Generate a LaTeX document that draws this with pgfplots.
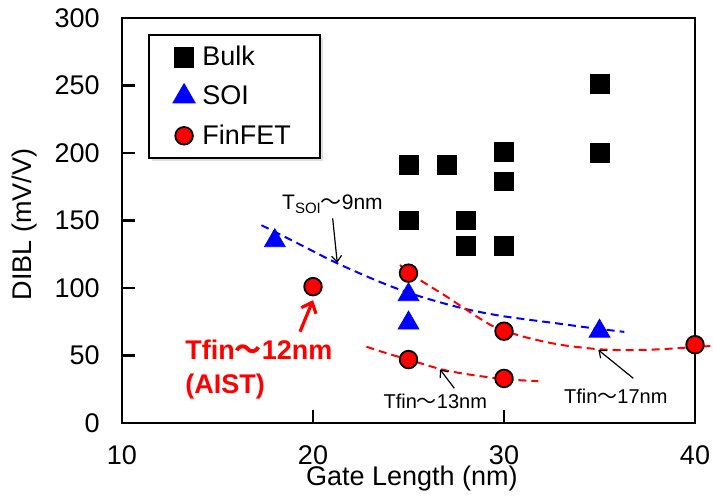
\documentclass[border=0pt]{standalone}
\usepackage{fontspec}
\setmainfont{Liberation Sans}
\newfontfamily\cjk{Noto Sans CJK JP}
\usepackage{pgfplots}
\pgfplotsset{compat=1.18}
\usetikzlibrary{arrows.meta,shadows}
\newcommand{\wave}{{\cjk ～}}

\begin{document}
\begin{tikzpicture}
\begin{axis}[
    scale only axis,
    width=286.5pt, height=202.5pt,
    xmin=10, xmax=40, ymin=0, ymax=300,
    xtick={10,20,30,40}, ytick={0,50,...,300},
    tick pos=left, tick align=inside,
    major tick length=6.5pt,
    axis line style={line width=1.4pt},
    every tick/.style={black, line width=1.2pt},
    tick label style={font=\fontsize{13.5}{16}\selectfont},
    /pgf/number format/assume math mode=true,
    xticklabel style={anchor=north, inner sep=0pt, yshift=-11pt},
    yticklabel style={anchor=east, inner sep=0pt, xshift=-11pt},
    xlabel={Gate Length (nm)},
    ylabel={DIBL (mV/V)},
    label style={font=\fontsize{13.5}{16}\selectfont},
    xlabel style={at={(axis description cs:0.506,-0.136)}, anchor=center},
    ylabel style={at={(axis description cs:-0.1693,0.49)}, anchor=center},
    clip=false,
    legend style={at={(0.045,0.96)}, anchor=north west,
        font=\fontsize{13.5}{16}\selectfont,
        draw=black, line width=0.9pt, fill=white,
        inner xsep=12.5pt, inner ysep=3.5pt, row sep=4.5pt,
        /tikz/every odd column/.append style={column sep=2pt},
        drop shadow={shadow xshift=1.5pt, shadow yshift=-1.5pt, fill=gray!50}},
    legend cell align=left,
]
% trend lines
\addplot[forget plot, blue, dashed, line width=1pt, dash pattern=on 4pt off 2.5pt, smooth]
  coordinates {(17.3,146.5) (19,134.5) (21.24,118.5) (23.5,104.5) (25,96.5) (26.5,90) (28.13,84) (30,79) (32.93,73.5) (34.5,70.5) (36.3,67.5)};
\addplot[forget plot, red, dashed, line width=1pt, dash pattern=on 4pt off 2.5pt, smooth]
  coordinates {(24.55,117) (25.6,106) (27,93.6) (28.13,83) (29.44,71.6) (31,64) (32.93,58) (35,54.6) (36.5,54) (38,54.5) (39.5,55.8) (40.8,57)};
\addplot[forget plot, red, dashed, line width=1pt, dash pattern=on 4pt off 2.5pt, smooth]
  coordinates {(22.8,56.5) (24,51) (25,47) (26.65,40) (28,36.3) (30,32.5) (31.8,31)};

\addplot[only marks, mark=square*, mark size=4.7pt, mark options={fill=black, draw=black, rounded corners=1pt}]
  coordinates {(25,191) (27,191) (30,201) (30,179) (35,251) (35,200) (25,150) (28,150) (28,131) (30,131)};
\addlegendentry{Bulk}
\addplot[only marks, mark=triangle*, mark size=6pt, mark options={fill=blue, draw=blue}]
  coordinates {(18,135) (25,95) (25,74) (35,68)};
\addlegendentry{SOI}
\addplot[only marks, mark=*, mark size=4.4pt, mark options={fill=red, draw=black, line width=0.9pt}]
  coordinates {(20,101) (25,111) (30,68) (25,47) (30,33) (40,58)};
\addlegendentry{FinFET}

% annotations
\node[anchor=base, font=\fontsize{10.5}{12}\selectfont, inner sep=0pt] at (axis cs:21.02,157.8)
  {T\raisebox{-0.35ex}{\fontsize{7.5}{9}\selectfont SOI}\wave 9nm};
\draw[-{Straight Barb[length=3pt,width=5pt]}, line width=0.6pt] (axis cs:21.03,151.6) -- (axis cs:21.27,118.7);

\node[anchor=base, font=\fontsize{10}{12}\selectfont, inner sep=0pt] at (axis cs:26.4,10.9) {Tfin\wave 13nm};
\draw[-{Straight Barb[length=3pt,width=5pt]}, line width=0.6pt] (axis cs:27.4,25.7) -- (axis cs:26.65,39.7);

\node[anchor=base, font=\fontsize{10}{12}\selectfont, inner sep=0pt] at (axis cs:35.85,14.6) {Tfin\wave 17nm};
\draw[-{Straight Barb[length=3pt,width=5pt]}, line width=0.6pt] (axis cs:36.77,33.1) -- (axis cs:34.94,54.1);

\node[anchor=base west, text=red, font=\fontsize{13.5}{16}\selectfont\bfseries, inner sep=0pt] at (axis cs:13.3,46.7) {Tfin\wave 12nm};
\node[anchor=base west, text=red, font=\fontsize{13.5}{16}\selectfont\bfseries, inner sep=0pt] at (axis cs:13.3,21.9) {(AIST)};
\draw[red, -{Straight Barb[length=4.5pt,width=8pt]}, line width=1.6pt] (axis cs:19.32,67.6) -- (axis cs:20.0,91);
\end{axis}
\path ([xshift=-61pt,yshift=-36pt]current axis.south west) rectangle ([xshift=9pt,yshift=9pt]current axis.north east);
\end{tikzpicture}
\end{document}
